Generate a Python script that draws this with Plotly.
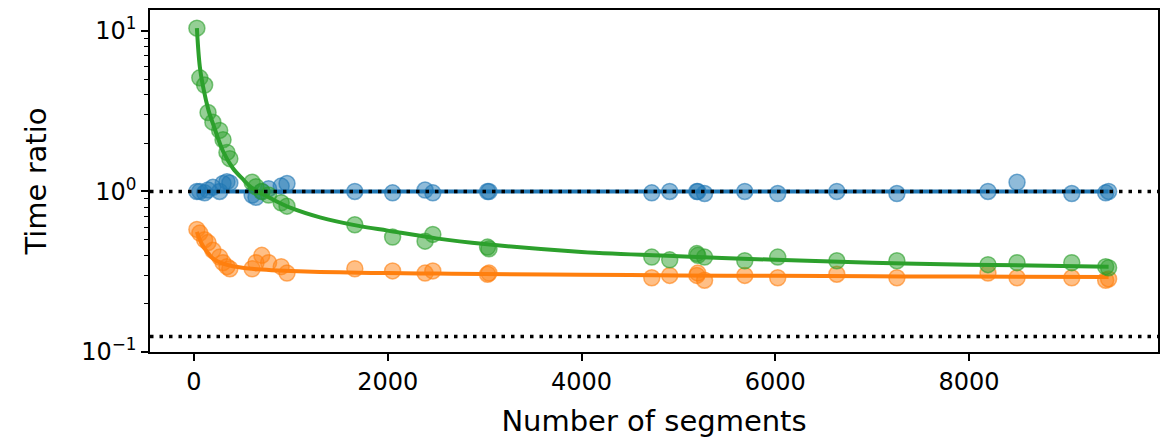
import plotly.graph_objects as go

# ---- data ----
x_segments = [30, 60, 110, 145, 195, 265, 300, 340, 370,
              600, 640, 700, 770, 900, 960,
              1660, 2050, 2385, 2465, 3030, 3045,
              4725, 4910, 5190, 5200, 5270, 5685,
              6025, 6635, 7255, 8195, 8495, 9060, 9410, 9440]

blue_ratio = [1.0, 1.0, 0.98, 1.02, 1.06, 1.0, 1.12, 1.15, 1.13,
              0.95, 0.92, 1.0, 1.04, 1.08, 1.12,
              1.0, 0.98, 1.02, 0.98, 1.0, 1.0,
              0.98, 1.0, 1.0, 1.0, 0.97, 1.0,
              0.97, 1.0, 0.97, 1.0, 1.14, 0.97, 0.98, 1.0]

orange_ratio = [0.58, 0.55, 0.50, 0.48, 0.43, 0.39, 0.36, 0.34, 0.33,
                0.33, 0.36, 0.40, 0.36, 0.34, 0.31,
                0.33, 0.32, 0.31, 0.32, 0.305, 0.31,
                0.29, 0.30, 0.30, 0.31, 0.28, 0.30,
                0.29, 0.305, 0.29, 0.31, 0.29, 0.29, 0.28, 0.285]

green_ratio = [10.4, 5.1, 4.6, 3.1, 2.7, 2.4, 2.1, 1.75, 1.6,
               1.14, 1.07, 1.0, 0.95, 0.85, 0.81,
               0.62, 0.52, 0.49, 0.54, 0.45, 0.44,
               0.39, 0.375, 0.41, 0.40, 0.39, 0.37,
               0.39, 0.37, 0.37, 0.35, 0.36, 0.36, 0.34, 0.335]

# fitted curves
fit_x = [30, 60, 100, 150, 200, 300, 400, 500, 600, 700, 800, 1000, 1300,
         1700, 2000, 2500, 3000, 4000, 5000, 6000, 7000, 8000, 9440]
green_fit = [10.4, 6.0, 4.3, 3.2, 2.6, 1.78, 1.4, 1.2, 1.05, 0.97, 0.9, 0.79, 0.69,
             0.61, 0.57, 0.51, 0.47, 0.42, 0.395, 0.375, 0.36, 0.35, 0.34]
orange_fit = [0.56, 0.50, 0.45, 0.41, 0.38, 0.355, 0.342, 0.335, 0.33, 0.326, 0.323,
              0.319, 0.315, 0.312, 0.31, 0.308, 0.306, 0.303, 0.30, 0.298, 0.296,
              0.295, 0.293]
blue_fit_x = [30, 9440]
blue_fit = [1.0, 1.0]

ref_levels = [1.0, 0.125]

x_ticks = [0, 2000, 4000, 6000, 8000]
y_ticks = [0.1, 1, 10]
y_tick_text = ["10<sup>\u22121</sup>", "10<sup>0</sup>", "10<sup>1</sup>"]
y_minor = [0.2, 0.3, 0.4, 0.5, 0.6, 0.7, 0.8, 0.9, 2, 3, 4, 5, 6, 7, 8, 9]

BLUE = (31, 119, 180)
ORANGE = (255, 127, 14)
GREEN = (44, 160, 44)


def rgba(c, a):
    return "rgba(%d,%d,%d,%s)" % (c[0], c[1], c[2], a)


fig = go.Figure()
for xs, ys, fx, fy, c in [
    (x_segments, blue_ratio, blue_fit_x, blue_fit, BLUE),
    (x_segments, orange_ratio, fit_x, orange_fit, ORANGE),
    (x_segments, green_ratio, fit_x, green_fit, GREEN),
]:
    fig.add_trace(go.Scatter(
        x=xs, y=ys, mode="markers",
        marker=dict(size=16, color=rgba(c, 0.5), line=dict(color=rgba(c, 0.6), width=1.5)),
        showlegend=False, hoverinfo="skip"))
    fig.add_trace(go.Scatter(
        x=fx, y=fy, mode="lines", line=dict(color=rgba(c, 1), width=4, shape="spline"),
        showlegend=False, hoverinfo="skip"))

for lvl in ref_levels:
    fig.add_shape(type="line", xref="paper", yref="y", x0=0, x1=1, y0=lvl, y1=lvl,
                  line=dict(color="black", width=3.5, dash="3.5px,6px"))

font = dict(family="DejaVu Sans", size=24, color="black")
fig.update_layout(
    width=1171, height=438,
    margin=dict(l=150, r=13, t=10, b=86),
    paper_bgcolor="white", plot_bgcolor="white",
    font=font,
    xaxis=dict(range=[-454, 9950], tickvals=x_ticks, ticks="outside", ticklen=7,
               tickwidth=1.5, tickcolor="black", showline=True, mirror=True,
               linecolor="black", linewidth=1.5, showgrid=False, zeroline=False,
               automargin=False,
               title=dict(text="Number of segments", standoff=17), tickfont=font),
    yaxis=dict(type="log", range=[-1, 1.13], tickvals=y_ticks, ticktext=y_tick_text,
               ticks="outside", ticklen=7, tickwidth=1.5, tickcolor="black",
               showline=True, mirror=True, linecolor="black", linewidth=1.5,
               showgrid=False, zeroline=False, automargin=False,
               minor=dict(tickvals=y_minor, ticks="outside", ticklen=4, tickwidth=1,
                          tickcolor="black", showgrid=False),
               title=dict(text="Time ratio", standoff=26), tickfont=font),
)

fig.write_html("out.html")
